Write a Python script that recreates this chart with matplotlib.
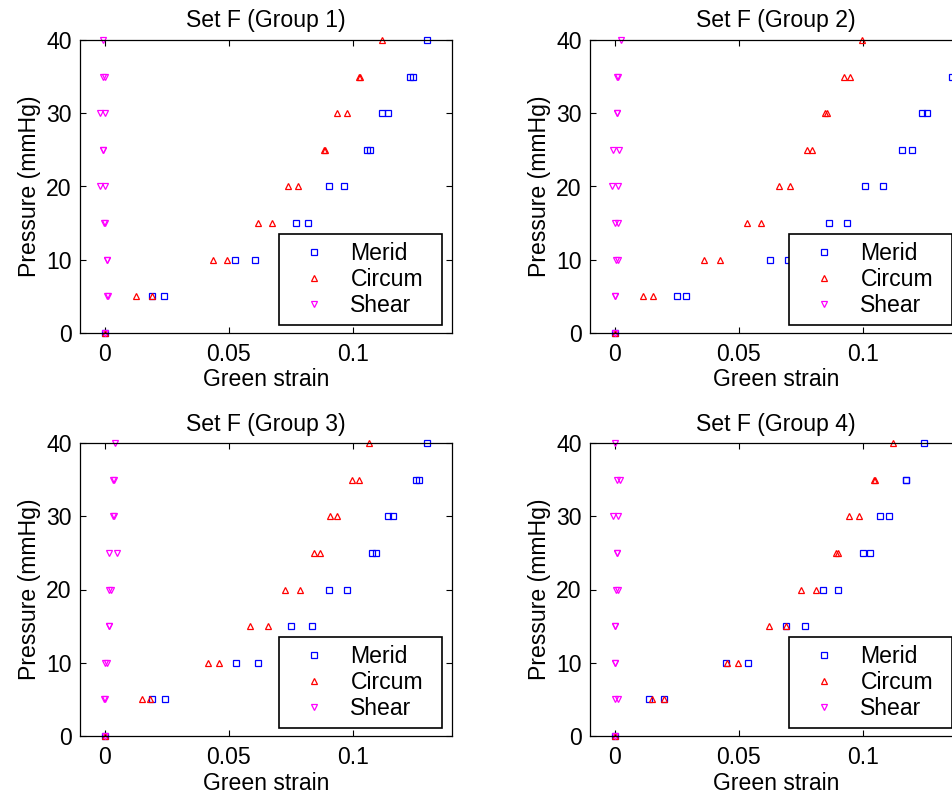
import matplotlib
matplotlib.use("Agg")
import matplotlib.pyplot as plt

plt.rcParams['font.family'] = ['Liberation Sans', 'DejaVu Sans']

# pressure levels: one point at 0 and 40, two (load/unload) in between
pressure = [0, 5, 5, 10, 10, 15, 15, 20, 20, 25, 25, 30, 30, 35, 35, 40]

titles = ["Set F (Group 1)", "Set F (Group 2)", "Set F (Group 3)", "Set F (Group 4)"]
series_names = ["Merid", "Circum", "Shear"]

merid = [
    [0, 0.0192, 0.0240, 0.0525, 0.0607, 0.0771, 0.0821, 0.0903, 0.0965,
     0.1059, 0.1070, 0.1116, 0.1143, 0.1229, 0.1243, 0.1299],
    [0, 0.0251, 0.0287, 0.0627, 0.0699, 0.0862, 0.0936, 0.1008, 0.1080,
     0.1158, 0.1198, 0.1238, 0.1257, 0.1358, 0.1420, 0.1460],
    [0, 0.0192, 0.0241, 0.0531, 0.0616, 0.0751, 0.0835, 0.0903, 0.0976,
     0.1076, 0.1093, 0.1143, 0.1163, 0.1253, 0.1267, 0.1299],
    [0, 0.0138, 0.0198, 0.0449, 0.0539, 0.0689, 0.0765, 0.0840, 0.0901,
     0.1000, 0.1031, 0.1071, 0.1104, 0.1174, 0.1176, 0.1247],
]
circum = [
    [0, 0.0127, 0.0192, 0.0436, 0.0493, 0.0616, 0.0673, 0.0739, 0.0780,
     0.0883, 0.0886, 0.0936, 0.0976, 0.1027, 0.1031, 0.1117],
    [0, 0.0114, 0.0155, 0.0358, 0.0425, 0.0532, 0.0591, 0.0663, 0.0705,
     0.0775, 0.0797, 0.0849, 0.0857, 0.0924, 0.0947, 0.0996],
    [0, 0.0149, 0.0183, 0.0416, 0.0459, 0.0585, 0.0657, 0.0728, 0.0788,
     0.0845, 0.0869, 0.0907, 0.0935, 0.0997, 0.1024, 0.1067],
    [0, 0.0151, 0.0198, 0.0452, 0.0496, 0.0622, 0.0689, 0.0751, 0.0810,
     0.0890, 0.0900, 0.0943, 0.0984, 0.1044, 0.1049, 0.1120],
]
shear = [
    [0, 0.0009, 0.0013, 0.0007, 0.0007, -0.0003, 0.0002, -0.0021, 0.0000,
     -0.0009, -0.0009, -0.0021, 0.0000, -0.0008, 0.0000, -0.0008],
    [0, 0.0000, 0.0000, 0.0004, 0.0011, 0.0000, 0.0013, -0.0013, 0.0011,
     -0.0007, 0.0017, 0.0009, 0.0009, 0.0008, 0.0013, 0.0024],
    [0, -0.0002, 0.0000, 0.0000, 0.0009, 0.0016, 0.0016, 0.0016, 0.0027,
     0.0016, 0.0049, 0.0032, 0.0036, 0.0033, 0.0037, 0.0043],
    [0, 0.0000, 0.0013, 0.0000, 0.0000, 0.0000, 0.0000, 0.0004, 0.0011,
     0.0008, 0.0008, -0.0009, 0.0013, 0.0008, 0.0019, 0.0000],
]

xticks = [0, 0.05, 0.1]
xtick_labels = ["0", "0.05", "0.1"]
yticks = [0, 10, 20, 30, 40]

W, H = 953, 798
fig = plt.figure(figsize=(W / 100, H / 100), dpi=100)

# axes boxes in pixels: left, top, width, height
boxes = [(80, 40, 372, 293), (590, 40, 372, 293),
         (80, 443, 372, 293), (590, 443, 372, 293)]

fs = 16.6
for i, (l, t, w, h) in enumerate(boxes):
    ax = fig.add_axes([l / W, (H - t - h) / H, w / W, h / H])
    ax.plot(merid[i], pressure, 's', ms=5, mfc='none', mec=(0, 0, 1), mew=0.9,
            clip_on=False, label=series_names[0])
    ax.plot(circum[i], pressure, '^', ms=4.5, mfc='none', mec=(1, 0, 0), mew=0.9,
            clip_on=False, label=series_names[1])
    ax.plot(shear[i], pressure, 'v', ms=4.5, mfc='none', mec=(1, 0, 1), mew=0.9,
            clip_on=False, label=series_names[2])
    ax.set_xlim(-0.01, 0.14)
    ax.set_ylim(0, 40)
    ax.set_xticks(xticks)
    ax.set_xticklabels(xtick_labels)
    ax.set_yticks(yticks)
    ax.tick_params(direction='in', length=4, width=0.8, top=True, right=True,
                   labelsize=fs)
    ax.tick_params(axis='x', pad=7)
    ax.tick_params(axis='y', pad=6)
    for s in ax.spines.values():
        s.set_linewidth(0.9)
    ax.set_title(titles[i], fontsize=fs, pad=9)
    ax.set_xlabel("Green strain", fontsize=fs, labelpad=2)
    ax.set_ylabel("Pressure (mmHg)", fontsize=fs, labelpad=4)
    # legend box: 163 px wide, 10 px from right spine, 8 px above bottom spine
    lw = 163 / w
    leg = ax.legend(loc='lower left', bbox_to_anchor=(1 - lw - 10 / w, 8 / h, lw, 0.3),
                    mode='expand', borderaxespad=0,
                    fontsize=fs, numpoints=1, fancybox=False,
                    edgecolor='black', framealpha=1, handlelength=2.3,
                    handletextpad=0.45, labelspacing=0.12, borderpad=0.35)
    leg.get_frame().set_linewidth(1.2)
    leg.set_zorder(5)

fig.savefig("out.png", dpi=100)
